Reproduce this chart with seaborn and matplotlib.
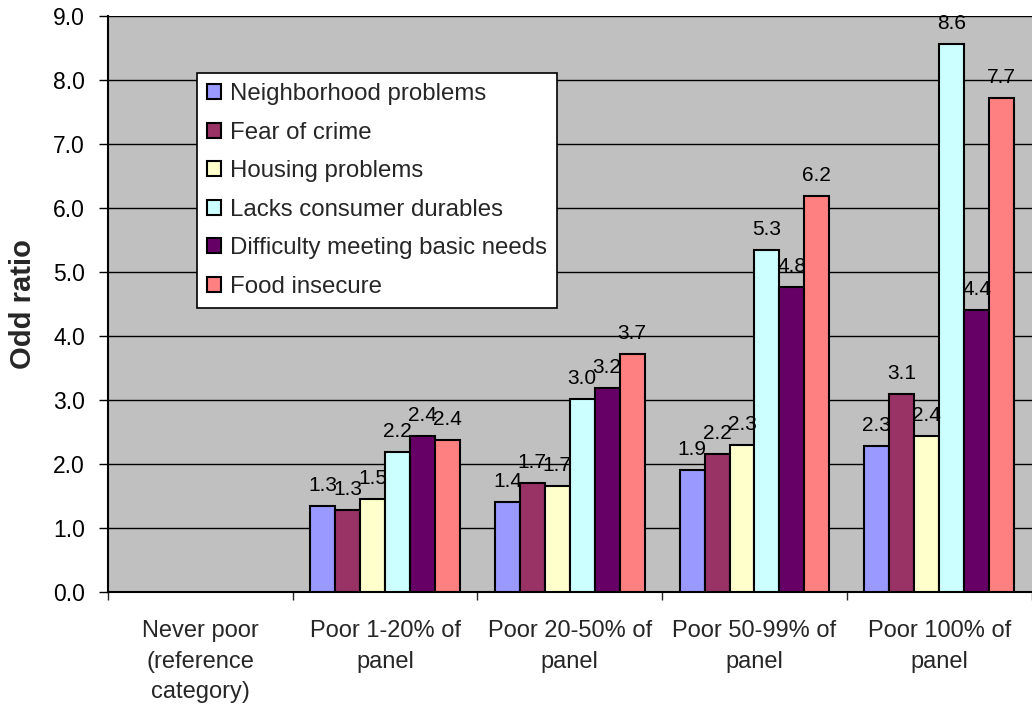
import numpy as np
import pandas as pd
import matplotlib
matplotlib.use("Agg")
import matplotlib.pyplot as plt
import seaborn as sns

# Poverty-duration groups (x categories)
groups = [
    "Never poor\n(reference\ncategory)",
    "Poor 1-20% of\npanel",
    "Poor 20-50% of\npanel",
    "Poor 50-99% of\npanel",
    "Poor 100% of\npanel",
]

# Odds ratios per hardship measure (reference group has no bar)
neighborhood = [np.nan, 1.34, 1.41, 1.91, 2.28]
fear_of_crime = [np.nan, 1.28, 1.70, 2.16, 3.09]
housing = [np.nan, 1.46, 1.66, 2.29, 2.44]
consumer_durables = [np.nan, 2.19, 3.01, 5.34, 8.56]
basic_needs = [np.nan, 2.44, 3.19, 4.76, 4.41]
food_insecure = [np.nan, 2.38, 3.72, 6.18, 7.72]

measures = [
    "Neighborhood problems",
    "Fear of crime",
    "Housing problems",
    "Lacks consumer durables",
    "Difficulty meeting basic needs",
    "Food insecure",
]
measure_colors = ["#9999FF", "#993366", "#FFFFCC", "#CCFFFF", "#660066", "#FF8080"]
y_ticks = [0, 1, 2, 3, 4, 5, 6, 7, 8, 9]

series = [neighborhood, fear_of_crime, housing, consumer_durables, basic_needs, food_insecure]
rows = []
for name, vals in zip(measures, series):
    for g, v in zip(groups, vals):
        rows.append({"group": g, "measure": name, "odds": v})
df = pd.DataFrame(rows).dropna()

sns.set_theme(style="white")
plt.rcParams["font.family"] = ["Liberation Sans", "DejaVu Sans"]

W, H = 1032, 711
fig = plt.figure(figsize=(W / 100, H / 100), dpi=100)
fig.patch.set_facecolor("white")
left_px, right_px, top_px, bottom_px = 108, 1031.5, 15.7, 592
ax = fig.add_axes([left_px / W, (H - bottom_px) / H,
                   (right_px - left_px) / W, (bottom_px - top_px) / H])
ax.set_facecolor("#C0C0C0")

sns.barplot(
    data=df, x="group", y="odds", hue="measure",
    order=groups, hue_order=measures,
    palette=dict(zip(measures, measure_colors)),
    saturation=1, width=0.81, edgecolor="black", linewidth=1.5,
    ax=ax, zorder=3,
)

# value labels above bars
for container in ax.containers:
    for bar in container:
        h = bar.get_height()
        if np.isnan(h):
            continue
        ax.annotate(f"{h:.1f}", (bar.get_x() + bar.get_width() / 2, h),
                    xytext=(0, 10.8), textcoords="offset points",
                    ha="center", va="baseline", fontsize=15, color="black",
                    zorder=5)

# y axis
ax.set_ylim(0, 9)
ax.set_yticks(y_ticks)
ax.set_yticklabels([f"{v:.1f}" for v in y_ticks], fontsize=16.5)
ax.yaxis.grid(True, color="black", linewidth=1.0, zorder=0)
ax.set_axisbelow(True)
ax.set_ylabel("Odd ratio", fontsize=21, fontweight="bold", labelpad=12)
ax.tick_params(axis="y", length=6.5, width=1.0, pad=10, direction="out", left=True, colors="black")

# x axis: boundary ticks, labels centred in each group
ax.set_xlim(-0.5, 4.5)
ax.set_xticks(np.arange(-0.5, 5.0, 1.0))
ax.set_xticklabels([])
ax.set_xticks(np.arange(5), minor=True)
ax.set_xticklabels(groups, minor=True, fontsize=17)
for t in ax.get_xticklabels(minor=True):
    t.set_linespacing(1.5)
ax.tick_params(axis="x", which="major", length=6, width=1.0, direction="out", bottom=True)
ax.tick_params(axis="x", which="minor", length=0, pad=20.5)
ax.set_xlabel("")

for side in ("top", "right"):
    ax.spines[side].set_visible(False)
for side in ("left", "bottom"):
    ax.spines[side].set_color("black")
    ax.spines[side].set_linewidth(1.5)

# legend box
handles, labels = ax.get_legend_handles_labels()
ax_w = right_px - left_px
ax_h = bottom_px - top_px
leg = ax.legend(
    handles, labels,
    loc="upper left",
    bbox_to_anchor=((197 - left_px) / ax_w, (bottom_px - 73) / ax_h),
    borderaxespad=0, fontsize=17.3,
    handlelength=0.58, handleheight=0.58, handletextpad=0.36,
    borderpad=0.42, labelspacing=0.69,
    frameon=True, fancybox=False, framealpha=1, facecolor="white",
    edgecolor="black",
)
leg.get_frame().set_linewidth(1.2)
leg.set_zorder(6)

fig.savefig("out.png", dpi=100, facecolor="white")
